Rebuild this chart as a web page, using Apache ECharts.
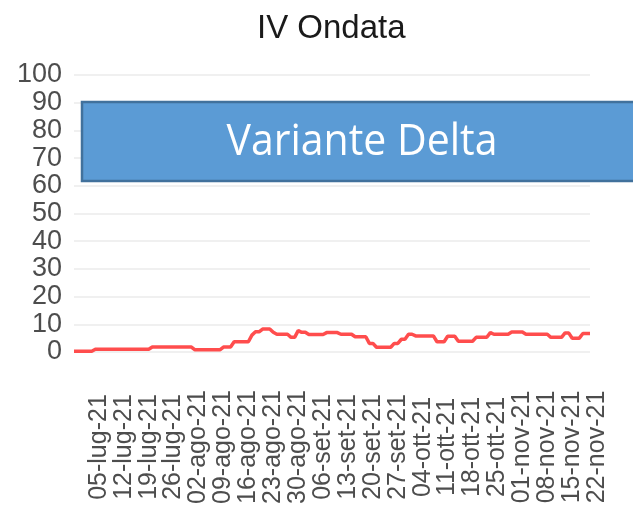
<!DOCTYPE html>
<html>
<head>
<meta charset="utf-8">
<script src="https://cdn.jsdelivr.net/npm/echarts@6/dist/echarts.min.js"></script>
<style>
html, body { margin: 0; padding: 0; background: #fff; }
#chart { width: 633px; height: 517px; }
</style>
</head>
<body>
<div id="chart"></div>
<script>
/* dati */
var startDate = [2021, 5, 30]; // 30-giu-21, primo giorno della serie
var monthNames = ['gen', 'feb', 'mar', 'apr', 'mag', 'giu', 'lug', 'ago', 'set', 'ott', 'nov', 'dic'];
var firstLabel = 5; // 05-lug-21, poi una etichetta a settimana
var yTicks = { min: 0, max: 100, step: 10 };
var dailyValues = [
	0.3, 0.3, 0.3, 0.3, 0.3, 0.3,
	1, 1, 1, 1, 1, 1, 1, 1, 1, 1, 1, 1, 1, 1, 1, 1,
	1.8, 1.8, 1.8, 1.8, 1.8, 1.8, 1.8, 1.8, 1.8, 1.8, 1.8, 1.8,
	0.8, 0.8, 0.8, 0.8, 0.8, 0.8, 0.8, 0.8,
	1.8, 1.8, 1.8,
	3.7, 3.7, 3.7, 3.7, 3.7,
	6.1, 7.3, 7.3, 8.3, 8.3, 8.3, 7.1,
	6.4, 6.4, 6.4, 6.4,
	5.3, 5.3, 7.7, 7.1, 7.1,
	6.3, 6.3, 6.3, 6.3, 6.3,
	7.0, 7.0, 7.0, 7.0,
	6.4, 6.4, 6.4, 6.4,
	5.5, 5.5, 5.5, 5.5,
	3.1, 3.1,
	1.7, 1.7, 1.7, 1.7, 1.7,
	3.1, 3.1, 4.6, 4.6, 6.4, 6.4,
	5.8, 5.8, 5.8, 5.8, 5.8, 5.8,
	3.7, 3.7, 3.7,
	5.7, 5.7, 5.7,
	3.9, 3.9, 3.9, 3.9, 3.9,
	5.3, 5.3, 5.3, 5.3,
	7.0,
	6.4, 6.4, 6.4, 6.4, 6.4,
	7.2, 7.2, 7.2, 7.2,
	6.4, 6.4, 6.4, 6.4, 6.4, 6.4, 6.4,
	5.3, 5.3, 5.3, 5.3,
	6.9, 6.9,
	5.0, 5.0, 5.0,
	6.7, 6.7, 6.7
];

//categorie giornaliere dd-mmm-yy
var days = [];
for (var i = 0; i < dailyValues.length; i++) {
	var d = new Date(startDate[0], startDate[1], startDate[2] + i);
	var dd = d.getDate() < 10 ? '0' + d.getDate() : '' + d.getDate();
	days.push(dd + '-' + monthNames[d.getMonth()] + '-' + String(d.getFullYear()).slice(2));
}

//larghezza del testo nel riquadro
var boxText = 'Variante Delta';
var ctx = document.createElement('canvas').getContext('2d');
ctx.font = '44px "Open Sans"';
var boxScale = 271 / ctx.measureText(boxText).width;

var myChart = echarts.init(document.getElementById('chart'));

var option = {
	animation: false,
	backgroundColor: '#fff',
	title: {
		text: 'IV Ondata',
		left: 252,
		top: 7,
		textStyle: {
			fontFamily: 'Liberation Sans',
			fontSize: 33,
			fontWeight: 'normal',
			color: '#1a1a1a'
		}
	},
	grid: {
		left: 74,
		right: 43,
		top: 75,
		bottom: 165
	},
	xAxis: {
		type: 'category',
		boundaryGap: false,
		data: days,
		axisLine: { show: false },
		axisTick: { show: false },
		splitLine: { show: false },
		axisLabel: {
			interval: function (index) {
				return index >= firstLabel && (index - firstLabel) % 7 === 0;
			},
			rotate: 90,
			align: 'center',
			verticalAlign: 'top',
			lineHeight: 14,
			margin: 95,
			fontFamily: 'Liberation Sans',
			fontSize: 25,
			color: '#4d4d4d'
		}
	},
	yAxis: {
		type: 'value',
		min: yTicks.min,
		max: yTicks.max,
		interval: yTicks.step,
		axisLine: { show: false },
		axisTick: { show: false },
		axisLabel: {
			margin: 12,
			fontFamily: 'Liberation Sans',
			fontSize: 27,
			color: '#4d4d4d'
		},
		splitLine: {
			lineStyle: {
				color: '#ebebeb',
				width: 1.5
			}
		}
	},
	series: [{
		type: 'line',
		data: dailyValues,
		symbol: 'none',
		lineStyle: {
			color: '#ff4d4d',
			width: 3.5
		},
		itemStyle: { color: '#ff4d4d' }
	}],
	graphic: [{
		type: 'rect',
		z: 100,
		shape: { x: 82, y: 102, width: 560, height: 79 },
		style: {
			fill: '#5b9bd5',
			stroke: '#41719c',
			lineWidth: 2.5
		}
	}, {
		type: 'text',
		z: 101,
		x: 362,
		y: 142,
		scaleX: boxScale,
		style: {
			text: boxText,
			fontFamily: 'Open Sans',
			fontSize: 44,
			fill: '#fff',
			align: 'center',
			verticalAlign: 'middle'
		}
	}]
};

myChart.setOption(option);
</script>
</body>
</html>
